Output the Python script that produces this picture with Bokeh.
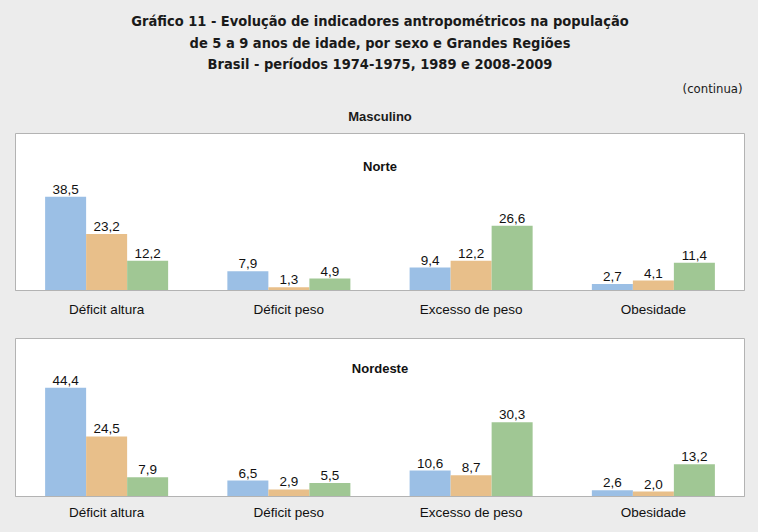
from bokeh.plotting import figure
from bokeh.models import ColumnDataSource, FactorRange, Range1d, Label
from bokeh.transform import dodge
from bokeh.layouts import column
from bokeh.core.properties import value
from bokeh.embed import file_html
from bokeh.resources import INLINE

# ---- data ----
categories = ["Déficit altura", "Déficit peso", "Excesso de peso", "Obesidade"]
periods = ["1974-1975", "1989", "2008-2009"]
norte_1974 = [38.5, 7.9, 9.4, 2.7]
norte_1989 = [23.2, 1.3, 12.2, 4.1]
norte_2008 = [12.2, 4.9, 26.6, 11.4]
nordeste_1974 = [44.4, 6.5, 10.6, 2.6]
nordeste_1989 = [24.5, 2.9, 8.7, 2.0]
nordeste_2008 = [7.9, 5.5, 30.3, 13.2]

title_lines = [
    "Gráfico 11 - Evolução de indicadores antropométricos na população",
    "de 5 a 9 anos de idade, por sexo e Grandes Regiões",
    "Brasil - períodos 1974-1975, 1989 e 2008-2009",
]

BG = "#ececec"
BORDER = "#b3b3b3"
COLORS = ["#9bbfe5", "#e8bf8a", "#a0c794"]
FONT = "Liberation Sans"
TITLE_FONT = "'DejaVu Sans Condensed', 'Liberation Sans', sans-serif"
W = 758


def fmt(v):
    return f"{v:.1f}".replace(".", ",")


# ---- header ----
head = figure(width=W, height=128, x_range=Range1d(0, W), y_range=Range1d(0, 128),
              min_border=0, toolbar_location=None, output_backend="svg",
              x_axis_location=None, y_axis_location=None,
              background_fill_color=BG, border_fill_color=BG, outline_line_color=None)
head.grid.visible = False
for t, yy in zip(title_lines, [108, 86, 65]):
    head.add_layout(Label(x=379, y=yy, text=t, text_align="center", text_baseline="middle",
                          text_font=TITLE_FONT, text_font_style="bold", text_font_size="14.5px",
                          text_color="#1a1a1a"))
head.add_layout(Label(x=756, y=40, text="(continua)", text_align="right", text_baseline="middle",
                      text_font=TITLE_FONT, text_font_size="13px", text_color="#1a1a1a"))
head.add_layout(Label(x=379, y=12, text="Masculino", text_align="center", text_baseline="middle",
                      text_font=FONT, text_font_style="bold", text_font_size="13px",
                      text_color="#1a1a1a"))
head.rect(x=[379], y=[60], width=1, height=1, alpha=0)


def panel(name, a, b, c, height, top, bottom, sub_y, standoff):
    src = ColumnDataSource(dict(
        cat=categories, a=a, b=b, c=c,
        a_l=[fmt(v) for v in a], b_l=[fmt(v) for v in b], c_l=[fmt(v) for v in c],
    ))
    p = figure(width=W, height=height, x_range=FactorRange(*categories, range_padding=0),
               y_range=Range1d(0, 64.5), toolbar_location=None, output_backend="svg",
               y_axis_location=None, min_border_left=15, min_border_right=14,
               min_border_top=top, min_border_bottom=bottom,
               background_fill_color="white", border_fill_color=BG,
               outline_line_color=BORDER, outline_line_width=1)
    p.grid.visible = False
    offs = [-0.225, 0.0, 0.225]
    for key, off, col in zip(["a", "b", "c"], offs, COLORS):
        p.vbar(x=dodge("cat", off, range=p.x_range), top=key, width=0.225, bottom=0,
               source=src, fill_color=col, line_color=None)
        p.text(x=dodge("cat", off, range=p.x_range), y=key, text=key + "_l", source=src,
               text_align="center", text_baseline="bottom", y_offset=-3,
               text_font=value(FONT), text_font_size="13.5px", text_color="#111111")
    p.add_layout(Label(x=2.0, y=sub_y, text=name, text_align="center", text_baseline="middle",
                       text_font=FONT, text_font_style="bold", text_font_size="13px",
                       text_color="#111111"))
    ax = p.xaxis[0]
    ax.axis_line_color = BORDER
    ax.major_tick_line_color = None
    ax.minor_tick_line_color = None
    ax.major_tick_out = 0
    ax.major_tick_in = 0
    ax.major_label_standoff = standoff
    ax.major_label_text_font = FONT
    ax.major_label_text_font_size = "13.5px"
    ax.major_label_text_color = "#111111"
    return p


p1 = panel("Norte", norte_1974, norte_1989, norte_2008, 200, 5, 38, 50.9, 11)
p2 = panel("Nordeste", nordeste_1974, nordeste_1989, nordeste_2008, 204, 10, 36, 52.3, 8)

layout = column(head, p1, p2, spacing=0)
html = file_html(layout, INLINE).replace(
    "<head>", "<head><style>html,body{background:#ececec;}</style>", 1)
open("out.html", "w").write(html)
